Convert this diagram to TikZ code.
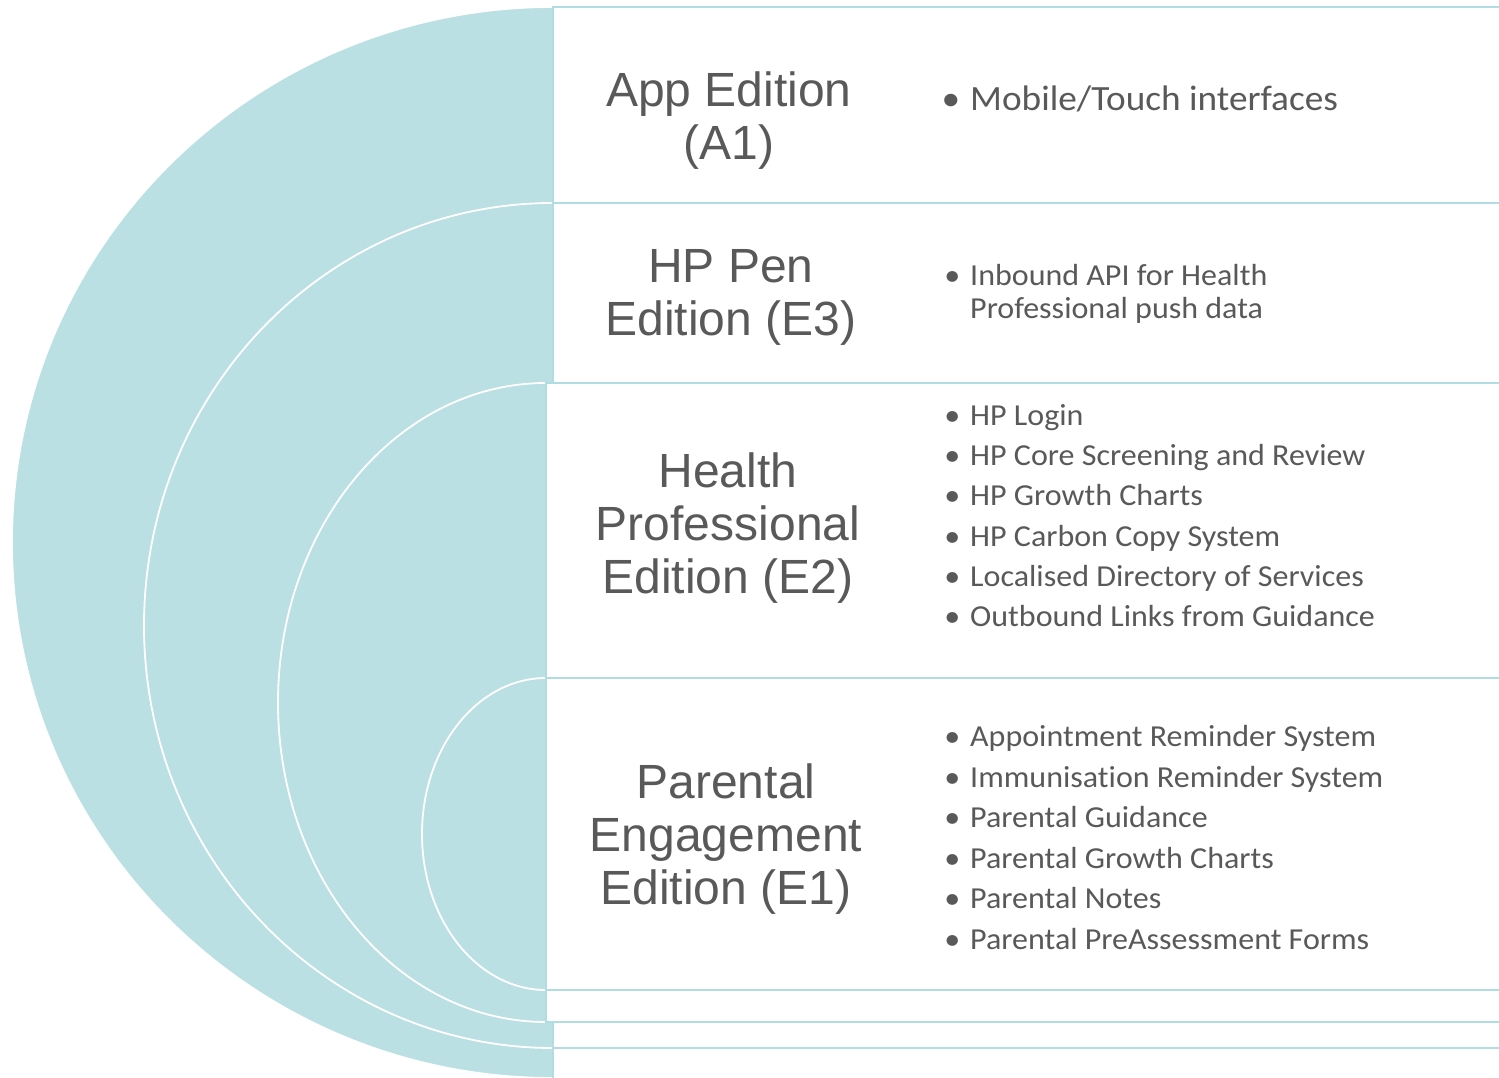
\documentclass[tikz,border=0pt]{standalone}
\usepackage{fontspec}
\setmainfont{Liberation Sans}
\newfontfamily\bulletfont[FakeStretch=1.05,Ligatures=NoCommon]{Carlito}
\definecolor{teal1}{HTML}{BAE0E3}
\definecolor{tealline}{HTML}{B0DCE3}
\definecolor{txtgray}{HTML}{595959}
\tikzset{
  halfell/.style={fill=teal1, draw=white, line width=1.8pt},
  editionbox/.style={fill=white, draw=tealline, line width=1.6pt},
  titletext/.style={anchor=base, inner sep=0pt, text=txtgray, font=\fontsize{48}{53}\selectfont},
  itemtext/.style={anchor=base west, inner sep=0pt, text=txtgray, font=\bulletfont\fontsize{30.5}{34}\selectfont},
  bigitemtext/.style={itemtext, font=\bulletfont\fontsize{35.5}{40}\selectfont},
}
\newcommand{\bul}{\llap{•\hspace{10pt}}}
\begin{document}
\begin{tikzpicture}[x=1pt,y=-1pt]
\useasboundingbox (0,0) rectangle (1499,1078);
\clip (0,0) rectangle (1499,1078);
% A1
\path[halfell] (553,7) arc[start angle=270, end angle=90, x radius=541, y radius=535.5] -- cycle;
\path[editionbox] (553,7) rectangle (1510,1085);
% E3
\path[halfell] (553,203) arc[start angle=270, end angle=90, x radius=409, y radius=422.5] -- cycle;
\path[editionbox] (553,203) rectangle (1510,1048);
% E2
\path[halfell] (546,383) arc[start angle=270, end angle=90, x radius=268, y radius=319.5] -- cycle;
\path[editionbox] (546,383) rectangle (1510,1022);
% E1
\path[halfell] (546,678) arc[start angle=270, end angle=90, x radius=124, y radius=156] -- cycle;
\path[editionbox] (546,678) rectangle (1510,990);

% titles
\node[titletext] (a1t1) at (729,107) {App Edition};
\node[titletext] (a1t2) at (729,160) {(A1)};
\node[titletext] (e3t1) at (731,282) {HP Pen};
\node[titletext] (e3t2) at (731,335) {Edition (E3)};
\node[titletext] (e2t1) at (728,487) {Health};
\node[titletext] (e2t2) at (728,540) {Professional};
\node[titletext] (e2t3) at (728,593) {Edition (E2)};
\node[titletext] (e1t1) at (726,798) {Parental};
\node[titletext] (e1t2) at (726,851) {Engagement};
\node[titletext] (e1t3) at (726,904) {Edition (E1)};

% bullets
\node[bigitemtext] (a1b1) at (970,111) {\bul Mobile/Touch interfaces};
\node[itemtext] (e3b1) at (970,285) {\bul Inbound API for Health};
\node[itemtext] (e3b2) at (970,318) {Professional push data};
\node[itemtext] (e2b1) at (970,425) {\bul HP Login};
\node[itemtext] (e2b2) at (970,465.3) {\bul HP Core Screening and Review};
\node[itemtext] (e2b3) at (970,505.6) {\bul HP Growth Charts};
\node[itemtext] (e2b4) at (970,546) {\bul HP Carbon Copy System};
\node[itemtext] (e2b5) at (970,586.3) {\bul Localised Directory of Services};
\node[itemtext] (e2b6) at (970,626.6) {\bul Outbound Links from Guidance};
\node[itemtext] (e1b1) at (970,746.5) {\bul Appointment Reminder System};
\node[itemtext] (e1b2) at (970,787) {\bul Immunisation Reminder System};
\node[itemtext] (e1b3) at (970,827.5) {\bul Parental Guidance};
\node[itemtext] (e1b4) at (970,868) {\bul Parental Growth Charts};
\node[itemtext] (e1b5) at (970,908.5) {\bul Parental Notes};
\node[itemtext] (e1b6) at (970,949) {\bul Parental PreAssessment Forms};
\end{tikzpicture}
\end{document}
